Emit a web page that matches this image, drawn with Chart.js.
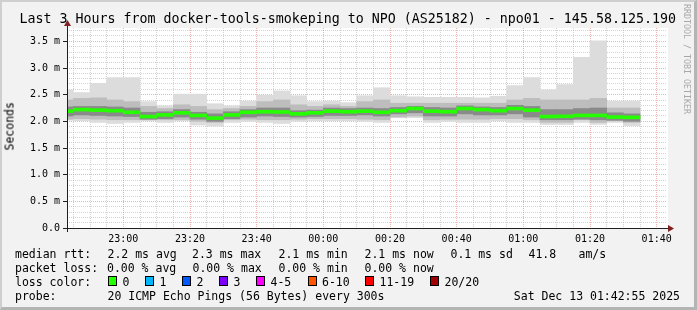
<!DOCTYPE html>
<html>
<head>
<meta charset="utf-8">
<title>smokeping npo01</title>
<script src="https://cdn.jsdelivr.net/npm/chart.js@4.4.0/dist/chart.umd.min.js"></script>
<style>
  body { margin: 0; background: #f2f2f2; }
  #wrap { position: relative; width: 697px; height: 310px; overflow: hidden; background: #f2f2f2;
          font-family: 'DejaVu Sans Mono', monospace; color: #000; }
  #chart { position: absolute; left: 0; top: 0; }
  #frame { position: absolute; left: 0; top: 0; width: 697px; height: 310px; box-sizing: border-box;
           border-top: 2px solid #cfcfcf; border-left: 2px solid #cfcfcf;
           border-right: 3px solid #b4b4b4; border-bottom: 3px solid #b4b4b4; pointer-events: none; }
  .t { position: absolute; white-space: pre; font-size: 11.5px; line-height: 13px; }
  .box { position: absolute; width: 7px; height: 8px; border: 1px solid #000; top: 276px; }
  #title { position: absolute; left: 19.5px; top: 12px; font-size: 13.3px; line-height: 14px; white-space: pre; }
  #ylab { position: absolute; left: -14px; top: 119.5px; width: 48px; height: 13px; font-size: 11.5px;
          line-height: 13px; text-align: center; transform: rotate(-90deg); white-space: pre; }
  #mark { position: absolute; left: 681.5px; top: 4px; font-size: 8.3px; line-height: 10px;
          writing-mode: vertical-rl; color: #a8a8a8; white-space: pre; }
</style>
</head>
<body>
<div id="wrap">
  <canvas id="chart" width="697" height="310"></canvas>
  <div id="title">Last 3 Hours from docker-tools-smokeping to NPO (AS25182) - npo01 - 145.58.125.190</div>
  <div id="ylab">Seconds</div>
  <div id="mark">RRDTOOL / TOBI OETIKER</div>

  <div class="t" style="left:15px;top:248px">median rtt:</div>
  <div class="t" style="left:107.5px;top:248px">2.2 ms avg</div>
  <div class="t" style="left:192px;top:248px">2.3 ms max</div>
  <div class="t" style="left:278.5px;top:248px">2.1 ms min</div>
  <div class="t" style="left:364.5px;top:248px">2.1 ms now</div>
  <div class="t" style="left:450.5px;top:248px">0.1 ms sd</div>
  <div class="t" style="left:528.5px;top:248px">41.8</div>
  <div class="t" style="left:578.5px;top:248px">am/s</div>

  <div class="t" style="left:15px;top:262px">packet loss:</div>
  <div class="t" style="left:107px;top:262px">0.00 % avg</div>
  <div class="t" style="left:192.5px;top:262px">0.00 % max</div>
  <div class="t" style="left:278.5px;top:262px">0.00 % min</div>
  <div class="t" style="left:364.5px;top:262px">0.00 % now</div>

  <div class="t" style="left:15px;top:276px">loss color:</div>
  <div id="losslegend"></div>

  <div class="t" style="left:15px;top:289.5px">probe:</div>
  <div class="t" style="left:107.5px;top:289.5px">20 ICMP Echo Pings (56 Bytes) every 300s</div>
  <div class="t" style="right:17px;top:289.5px">Sat Dec 13 01:42:55 2025</div>

  <div id="frame"></div>
</div>
<script>
'use strict';

// 5 minute rounds, labelled by the end of each round
var times = ['22:45', '22:50', '22:55', '23:00', '23:05', '23:10', '23:15', '23:20', '23:25', '23:30',
             '23:35', '23:40', '23:45', '23:50', '23:55', '00:00', '00:05', '00:10', '00:15', '00:20',
             '00:25', '00:30', '00:35', '00:40', '00:45', '00:50', '00:55', '01:00', '01:05', '01:10',
             '01:15', '01:20', '01:25', '01:30', '01:35'];

// rtt in ms
var medians = [2.19, 2.22, 2.21, 2.20, 2.17, 2.09, 2.12, 2.16, 2.11, 2.06,
               2.12, 2.17, 2.18, 2.175, 2.14, 2.16, 2.19, 2.18, 2.19, 2.17,
               2.20, 2.24, 2.19, 2.18, 2.24, 2.22, 2.20, 2.24, 2.21, 2.09,
               2.095, 2.11, 2.11, 2.08, 2.075];
var maxs = [2.59, 2.54, 2.71, 2.82, 2.82, 2.37, 2.29, 2.51, 2.51, 2.33,
            2.29, 2.38, 2.49, 2.57, 2.48, 2.37, 2.38, 2.35, 2.48, 2.63,
            2.48, 2.46, 2.45, 2.45, 2.45, 2.44, 2.47, 2.67, 2.82, 2.59,
            2.69, 3.20, 3.51, 2.38, 2.38];
var mins = [2.02, 2.01, 1.98, 1.96, 1.98, 2.01, 1.98, 2.01, 1.93, 1.91,
            1.98, 2.00, 1.98, 1.96, 2.00, 2.01, 2.01, 2.01, 2.00, 1.98,
            2.07, 2.07, 1.98, 2.00, 1.98, 1.98, 2.01, 1.98, 1.98, 1.94,
            1.94, 1.98, 1.94, 1.98, 1.92];
var midHi = [2.40, 2.43, 2.44, 2.40, 2.37, 2.28, 2.24, 2.31, 2.28, 2.22,
             2.24, 2.28, 2.37, 2.40, 2.31, 2.28, 2.31, 2.28, 2.37, 2.40,
             2.34, 2.34, 2.34, 2.34, 2.34, 2.34, 2.34, 2.40, 2.43, 2.40,
             2.40, 2.40, 2.43, 2.25, 2.25];
var midLo = [2.04, 2.05, 2.04, 2.03, 2.03, 2.03, 2.03, 2.03, 2.00, 1.98,
             2.03, 2.04, 2.03, 2.03, 2.04, 2.05, 2.05, 2.05, 2.04, 2.03,
             2.08, 2.10, 2.03, 2.04, 2.04, 2.04, 2.05, 2.05, 2.03, 1.98,
             1.98, 2.03, 1.98, 2.01, 1.98];
var coreHi = [2.27, 2.28, 2.28, 2.27, 2.25, 2.17, 2.18, 2.22, 2.17, 2.14,
              2.18, 2.22, 2.25, 2.25, 2.20, 2.21, 2.25, 2.24, 2.25, 2.24,
              2.26, 2.28, 2.26, 2.25, 2.29, 2.27, 2.26, 2.30, 2.28, 2.22,
              2.22, 2.24, 2.25, 2.16, 2.14];
var coreLo = [2.10, 2.12, 2.11, 2.10, 2.09, 2.04, 2.05, 2.08, 2.04, 2.00,
              2.05, 2.08, 2.10, 2.09, 2.08, 2.09, 2.11, 2.11, 2.12, 2.10,
              2.14, 2.16, 2.10, 2.10, 2.14, 2.12, 2.12, 2.14, 2.08, 2.03,
              2.03, 2.04, 2.03, 2.02, 2.00];

var xTickLabels = ['23:00', '23:20', '23:40', '00:00', '00:20', '00:40', '01:00', '01:20', '01:40'];
var yTickLabels = ['0.0', '0.5 m', '1.0 m', '1.5 m', '2.0 m', '2.5 m', '3.0 m', '3.5 m'];

var lossLabels = ['0', '1', '2', '3', '4-5', '6-10', '11-19', '20/20'];
var lossColors = ['#26ff00', '#00b8ff', '#0059ff', '#7e00ff', '#ff00ff', '#ff5500', '#ff0000', '#a00000'];
var lossBoxX = [108, 145, 182, 219, 256, 307.5, 365, 430];

// loss colour legend
var ll = document.getElementById('losslegend');
lossLabels.forEach(function(lbl, i) {
    var b = document.createElement('div');
    b.className = 'box';
    b.style.left = lossBoxX[i] + 'px';
    b.style.background = lossColors[i];
    ll.appendChild(b);
    var t = document.createElement('div');
    t.className = 't';
    t.style.left = (lossBoxX[i] + 14.5) + 'px';
    t.style.top = '276px';
    t.textContent = lbl;
    ll.appendChild(t);
});

// minutes relative to 23:00, bar centred in its round
function toMin(s) {
    var h = parseInt(s.slice(0, 2), 10), m = parseInt(s.slice(3), 10);
    return h >= 12 ? h * 60 + m - 1380 : h * 60 + m + 60;
}
var xs = times.map(function(t) { return toMin(t) - 2.5; });

function band(lo, hi) {
    return xs.map(function(x, i) { return {x: x, y: [lo[i], hi[i]]}; });
}
var medianBand = xs.map(function(x, i) { return {x: x, y: [medians[i] - 0.028, medians[i] + 0.028]}; });

var xTicks = [];
for (var m = -15; m <= 160; m += 5) xTicks.push(m);
var yTicks = [];
for (var k = 0; k <= 37; k++) yTicks.push(k / 10);

function isMajorY(v) { return Math.round(v * 10) % 5 === 0; }

var MINOR = 'rgba(143,143,143,0.38)';
var MAJOR = 'rgba(222,79,79,0.45)';
var monoFont = {family: 'DejaVu Sans Mono', size: 10};

var canvasBg = {
    id: 'canvasBg',
    beforeDraw: function(chart) {
        var a = chart.chartArea, c = chart.ctx;
        c.save();
        c.fillStyle = '#ffffff';
        c.fillRect(a.left, a.top, a.right - a.left + 1, a.bottom - a.top);
        c.restore();
    }
};

var axes = {
    id: 'axes',
    afterDraw: function(chart) {
        var a = chart.chartArea, c = chart.ctx;
        var x0 = Math.round(a.left) + 0.5, y0 = Math.round(a.bottom) + 0.5;
        c.save();
        c.strokeStyle = '#1f1f1f';
        c.lineWidth = 1;
        c.beginPath();
        c.moveTo(a.left - 4, y0); c.lineTo(a.right + 2, y0);
        c.moveTo(x0, a.bottom + 4); c.lineTo(x0, a.top - 3);
        c.stroke();
        c.fillStyle = '#801f1f';
        c.beginPath();
        c.moveTo(a.right + 1, y0 - 3.5); c.lineTo(a.right + 7, y0); c.lineTo(a.right + 1, y0 + 3.5);
        c.closePath(); c.fill();
        c.beginPath();
        c.moveTo(x0 - 3.5, a.top - 2); c.lineTo(x0, a.top - 8); c.lineTo(x0 + 3.5, a.top - 2);
        c.closePath(); c.fill();
        c.restore();
    }
};

var ctx = document.getElementById('chart').getContext('2d');
new Chart(ctx, {
    type: 'bar',
    data: {
        datasets: [
            {label: 'median', data: medianBand, backgroundColor: '#26ff00', order: 0},
            {label: 'core', data: band(coreLo, coreHi), backgroundColor: '#8a8a8a', order: 1},
            {label: 'mid', data: band(midLo, midHi), backgroundColor: '#bdbdbd', order: 2},
            {label: 'range', data: band(mins, maxs), backgroundColor: '#dcdcdc', order: 3}
        ]
    },
    options: {
        responsive: false,
        animation: false,
        events: [],
        layout: {padding: {left: 0, top: 28, right: 30, bottom: 62}},
        datasets: {
            bar: {grouped: false, categoryPercentage: 1, barPercentage: 1, borderWidth: 0, clip: 0}
        },
        plugins: {legend: {display: false}, tooltip: {enabled: false}},
        scales: {
            x: {
                type: 'linear', min: -16.9, max: 163.1, offset: false, z: 1,
                afterBuildTicks: function(s) { s.ticks = xTicks.map(function(v) { return {value: v}; }); },
                afterFit: function(s) { s.height = 20; },
                ticks: {
                    autoSkip: false, maxRotation: 0, padding: 2, color: '#000', font: monoFont,
                    callback: function(v) { return v % 20 === 0 ? xTickLabels[v / 20] : ''; }
                },
                grid: {
                    offset: false, lineWidth: 1, tickLength: 3, tickColor: 'rgba(0,0,0,0)',
                    color: function(c) { return c.tick && c.tick.value % 20 === 0 ? MAJOR : MINOR; }
                },
                border: {display: false, dash: [1, 1]}
            },
            y: {
                min: 0, max: 3.75, z: 1,
                afterBuildTicks: function(s) { s.ticks = yTicks.map(function(v) { return {value: v}; }); },
                afterFit: function(s) { s.width = 67; },
                ticks: {
                    autoSkip: false, padding: 3, color: '#000', font: monoFont,
                    callback: function(v) { var i = Math.round(v * 10); return i % 5 === 0 ? yTickLabels[i / 5] : ''; }
                },
                grid: {
                    lineWidth: 1, tickLength: 4,
                    color: function(c) { return c.tick && isMajorY(c.tick.value) ? MAJOR : MINOR; },
                    tickColor: function(c) { return c.tick && isMajorY(c.tick.value) ? '#1f1f1f' : 'rgba(0,0,0,0)'; }
                },
                border: {display: false, dash: [1, 1]}
            }
        }
    },
    plugins: [canvasBg, axes]
});
</script>
</body>
</html>
